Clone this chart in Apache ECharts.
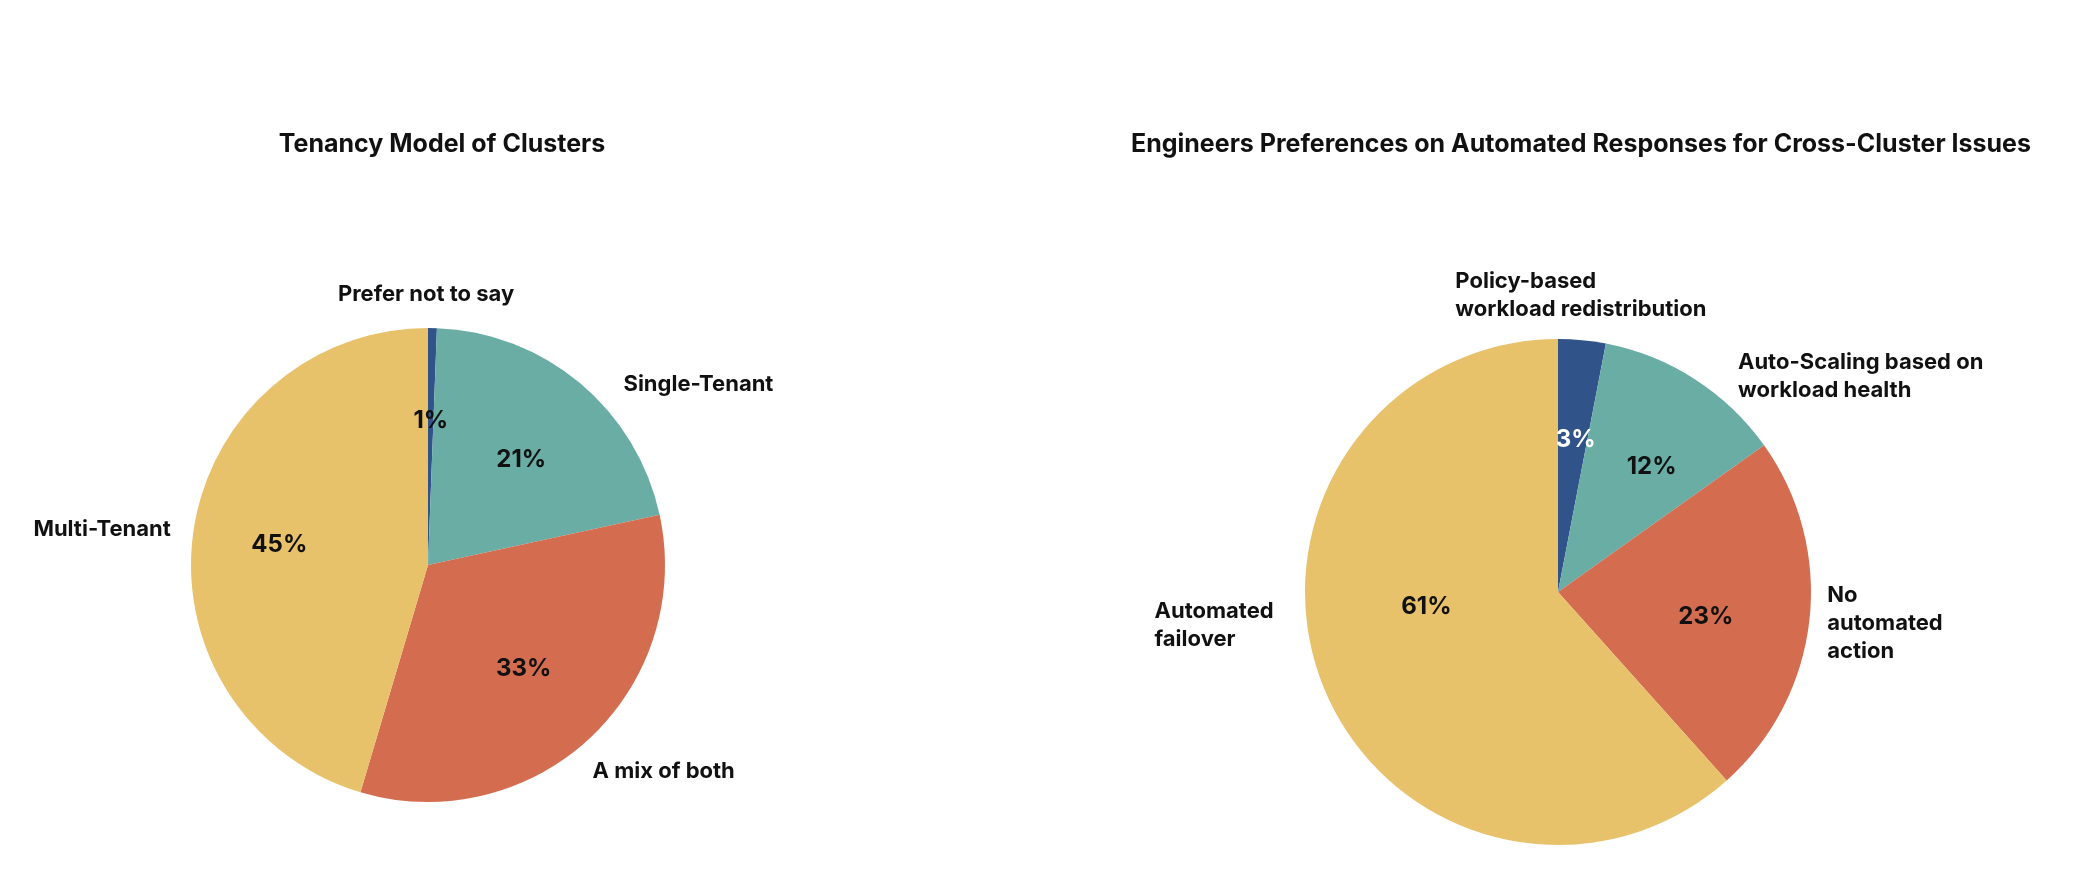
<!DOCTYPE html>
<html>
<head>
<meta charset="utf-8">
<title>Cluster survey pies</title>
<script src="https://cdn.jsdelivr.net/npm/echarts@6.0.0/dist/echarts.min.js"></script>
<style>
  html, body { margin: 0; padding: 0; background: #ffffff; }
  #chart { width: 2096px; height: 884px; }
</style>
</head>
<body>
<div id="chart"></div>
<script>
// Tenancy model of clusters (percent of respondents)
const tenancyNames = ['Prefer not to say', 'Single-Tenant', 'A mix of both', 'Multi-Tenant']
const tenancyValues = [0.6, 21, 33, 45.4]

// Automated responses for cross-cluster issues (percent)
const responseNames = [
  'Policy-based\nworkload redistribution',
  'Auto-Scaling based on\nworkload health',
  'No\nautomated\naction',
  'Automated\nfailover',
]
const responseValues = [3, 12, 23, 61]

const colors = ['#30538a', '#69ada5', '#d46d50', '#e8c16b']
const font = 'Inter, "Noto Sans", sans-serif'

// small label nudges (px) so the text sits where the original put it
const tenancyNameNudge = [[-11, -4], [20, 24], [-21, 11], [11, 3]]
const tenancyPctNudge = [[0, 1], [0, 6], [-3, -3], [-5, 1]]
const responseNameNudge = [[-8, -15], [23, 22], [-16, 0], [-16, -68]]
const responsePctNudge = [[3, 2], [10, 5], [-6, 8], [13, -40]]

function pctLabel(p) {
  return Math.round(p.value) + '%'
}

// top label gets centred as a block, lines stay left aligned
function nudgeLayout(nudge, centreFirst) {
  return (p) => {
    const r = p.labelRect
    const d = nudge[p.dataIndex] || [0, 0]
    const left = centreFirst && p.dataIndex === 0 ? r.x - r.width / 2 : r.x
    return { x: left + d[0], y: r.y + d[1], align: 'left', verticalAlign: 'top' }
  }
}

function buildPies(names, values, center, radius, nameNudge, pctNudge, lightIdx) {
  const data = names.map((n, i) => ({ name: n, value: values[i] }))
  return [
    {
      type: 'pie',
      center: center,
      radius: [0, radius],
      startAngle: 90,
      clockwise: true,
      avoidLabelOverlap: false,
      silent: true,
      itemStyle: { color: (p) => colors[p.dataIndex] },
      label: {
        show: true,
        position: 'outside',
        formatter: '{b}',
        color: '#111',
        fontFamily: font,
        fontWeight: 700,
        fontSize: 22,
        lineHeight: 28,
        distanceToLabelLine: 4,
      },
      labelLine: { show: false, length: 30, length2: 0 },
      labelLayout: nudgeLayout(nameNudge, true),
      data: data,
    },
    {
      // transparent ring, only used to place the percent labels at ~0.6 r
      type: 'pie',
      center: center,
      radius: [radius * 0.2, radius],
      startAngle: 90,
      clockwise: true,
      avoidLabelOverlap: false,
      silent: true,
      itemStyle: { color: 'rgba(0,0,0,0)' },
      label: {
        show: true,
        position: 'inside',
        formatter: pctLabel,
        fontFamily: font,
        fontWeight: 700,
        fontSize: 24,
      },
      labelLine: { show: false },
      labelLayout: nudgeLayout(pctNudge, false),
      data: data.map((d, i) => ({
        name: d.name,
        value: d.value,
        label: { color: i === lightIdx ? '#ffffff' : '#111111' },
      })),
    },
  ]
}

const chart = echarts.init(document.getElementById('chart'), null, { renderer: 'canvas' })

chart.setOption({
  backgroundColor: '#ffffff',
  animation: false,
  title: [
    {
      text: 'Tenancy Model of Clusters',
      left: 437,
      top: 127,
      textAlign: 'center',
      textStyle: { fontFamily: font, fontWeight: 700, fontSize: 25, color: '#111' },
    },
    {
      text: 'Engineers Preferences on Automated Responses for Cross-Cluster Issues',
      left: 1576,
      top: 127,
      textAlign: 'center',
      textStyle: { fontFamily: font, fontWeight: 700, fontSize: 25, color: '#111' },
    },
  ],
  series: [
    ...buildPies(tenancyNames, tenancyValues, [428, 565], 237, tenancyNameNudge, tenancyPctNudge, -1),
    ...buildPies(responseNames, responseValues, [1558, 592], 253, responseNameNudge, responsePctNudge, 0),
  ],
})
</script>
</body>
</html>
